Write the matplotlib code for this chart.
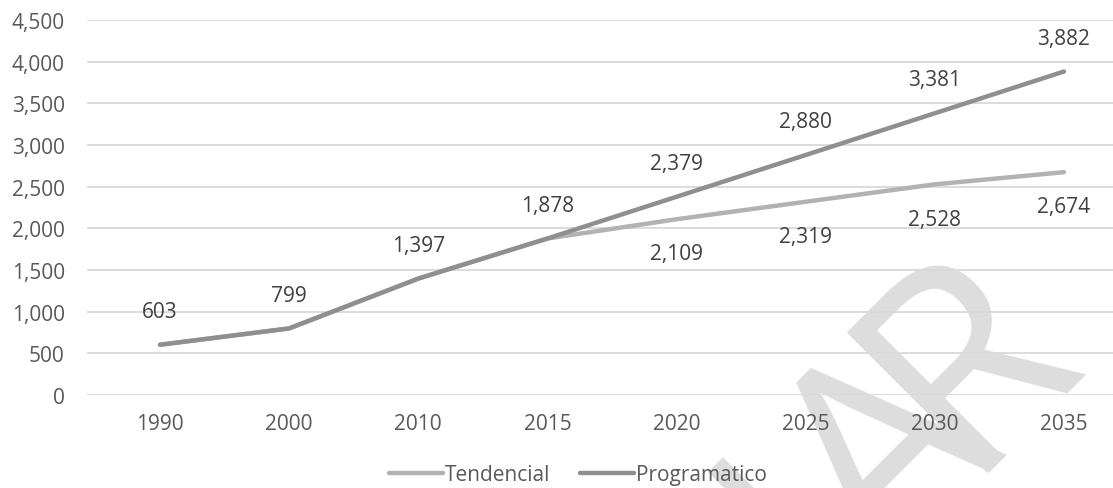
import matplotlib
matplotlib.use("Agg")
import matplotlib.pyplot as plt
import math

years = ["1990", "2000", "2010", "2015", "2020", "2025", "2030", "2035"]
tendencial = [603, 799, 1397, 1878, 2109, 2319, 2528, 2674]
programatico = [603, 799, 1397, 1878, 2379, 2880, 3381, 3882]
series_names = ["Tendencial", "Programatico"]

plt.rcParams['font.family'] = ['Open Sans', 'DejaVu Sans']

W, H = 1113, 489
fig = plt.figure(figsize=(W / 100, H / 100), dpi=100)
fig.patch.set_facecolor('white')

left_px, right_px, top_px, bot_px = 87, 1113, 21, 396
ax = fig.add_axes([left_px / W, 1 - bot_px / H, (right_px - left_px) / W, (bot_px - top_px) / H])
ax.set_facecolor('none')

# watermark (two pieces so the letter spacing is closer to the original face)
wm_size = 200
wm_color = '#dddddd'
renderer = fig.canvas.get_renderer()
tmp = fig.text(0, 0, "R", fontsize=wm_size)
w_r = tmp.get_window_extent(renderer).width
tmp.remove()
ang = math.radians(45)
rx, ry = 1082, H - 352
fig.text(rx / W, ry / H, "R", rotation=45, rotation_mode='anchor',
         ha='right', va='baseline', fontsize=wm_size, color=wm_color, zorder=-1)
d = w_r - 55
px_, py_ = rx - d * math.cos(ang), ry - d * math.sin(ang)
fig.text(px_ / W, py_ / H, "PRELIMINA", rotation=45, rotation_mode='anchor',
         ha='right', va='baseline', fontsize=wm_size, color=wm_color, zorder=-1)

x = list(range(len(years)))
c_t = '#b2b2b2'
c_p = '#8f8f8f'
ax.plot(x, tendencial, color=c_t, lw=3.2, solid_capstyle='round', label=series_names[0], zorder=3)
ax.plot(x, programatico, color=c_p, lw=3.2, solid_capstyle='round', label=series_names[1], zorder=4)

lab_color = '#404040'
for i in x:
    ax.annotate(f"{programatico[i]:,}", (i, programatico[i]), xytext=(0, 24), textcoords='offset points',
                ha='center', va='center', fontsize=15, color=lab_color)
    if tendencial[i] != programatico[i]:
        ax.annotate(f"{tendencial[i]:,}", (i, tendencial[i]), xytext=(0, -25), textcoords='offset points',
                    ha='center', va='center', fontsize=15, color=lab_color)

unit = (1064 - 160) / 7
ax.set_xlim(-(160 - left_px) / unit, 7 + (right_px - 1064) / unit)
ax.set_ylim(0, 4500)
ax.set_yticks(range(0, 4501, 500))
ax.set_yticklabels([f"{v:,}" for v in range(0, 4501, 500)])
ax.set_xticks(x)
ax.set_xticklabels(years)
ax.tick_params(axis='both', length=0, labelsize=15, colors='#595959')
ax.tick_params(axis='y', pad=16)
ax.tick_params(axis='x', pad=13)
ax.grid(axis='y', color='#d9d9d9', lw=1.3)
ax.set_axisbelow(True)
for s in ax.spines.values():
    s.set_visible(False)

leg = fig.legend(loc='center', bbox_to_anchor=(578 / W, 1 - 476 / H), ncol=2, frameon=False,
                 fontsize=15, handlelength=2.6, handletextpad=0.1, columnspacing=1.4,
                 labelcolor='#595959')
for h in leg.get_lines():
    h.set_linewidth(3.2)

fig.savefig("out.png", dpi=100)
